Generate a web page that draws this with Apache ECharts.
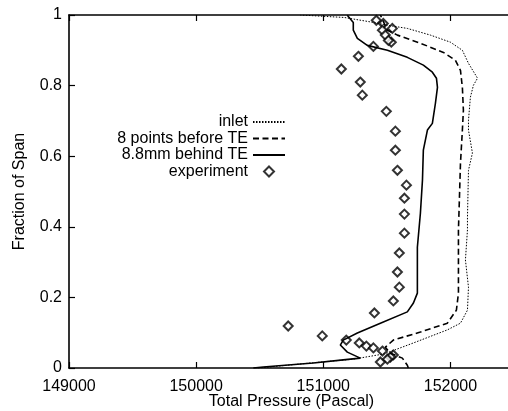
<!DOCTYPE html>
<html>
<head>
<meta charset="utf-8">
<script src="https://cdn.jsdelivr.net/npm/echarts@6/dist/echarts.min.js"></script>
<style>
  html, body { margin: 0; padding: 0; background: #fff; }
  #chart { width: 508px; height: 411px; }
</style>
</head>
<body>
<div id="chart"></div>
<script>
// tick labels
var xTicks = [149000, 150000, 151000, 152000];
var yTicks = [0, 0.2, 0.4, 0.6, 0.8, 1];

// inlet (dotted): [pressure, span]
var inlet = [
  [150488, 0], [150984, 0.017], [151236, 0.025], [151480, 0.040], [151709, 0.071],
  [151976, 0.108], [152079, 0.127], [152134, 0.164], [152142, 0.229], [152118, 0.306],
  [152134, 0.391], [152134, 0.427], [152142, 0.560], [152173, 0.609], [152142, 0.674],
  [152142, 0.702], [152157, 0.767], [152181, 0.801], [152213, 0.821], [152142, 0.863],
  [152094, 0.900], [152000, 0.923], [151843, 0.943], [151661, 0.962], [151504, 0.971],
  [151394, 0.979], [151165, 0.993], [150819, 1.0]
];

// 8 points before TE (dashed)
var beforeTE = [
  [151669, 0], [151661, 0.008], [151622, 0.028], [151528, 0.042], [151488, 0.059],
  [151551, 0.079], [151764, 0.102], [151976, 0.127], [152047, 0.164], [152063, 0.212],
  [152063, 0.306], [152063, 0.391], [152071, 0.484], [152079, 0.580], [152094, 0.674],
  [152102, 0.730], [152094, 0.795], [152079, 0.843], [152039, 0.872], [151945, 0.894],
  [151764, 0.920], [151583, 0.943], [151504, 0.957], [151449, 1.0]
];

// 8.8mm behind TE (solid)
var behindTE = [
  [150450, 0], [150528, 0.003], [150921, 0.014], [151157, 0.023], [151291, 0.028],
  [151189, 0.045], [151134, 0.065], [151157, 0.079], [151268, 0.099], [151449, 0.127],
  [151661, 0.159], [151709, 0.184], [151740, 0.212], [151740, 0.249], [151740, 0.306],
  [151740, 0.342], [151764, 0.439], [151780, 0.532], [151787, 0.617], [151819, 0.674],
  [151858, 0.693], [151882, 0.750], [151898, 0.795], [151890, 0.821], [151858, 0.838],
  [151787, 0.858], [151661, 0.880], [151504, 0.900], [151346, 0.914], [151268, 0.934],
  [151236, 0.957], [151236, 0.979], [151189, 0.999]
];

// experiment (diamonds)
var experiment = [
  [151417, 0.985], [151472, 0.976], [151465, 0.957], [151543, 0.962], [151488, 0.943],
  [151535, 0.923], [151512, 0.928], [151394, 0.911], [151276, 0.883], [151142, 0.847],
  [151291, 0.810], [151307, 0.773], [151496, 0.727], [151567, 0.671], [151567, 0.617],
  [151583, 0.560], [151654, 0.518], [151638, 0.481], [151638, 0.436], [151638, 0.382],
  [151598, 0.326], [151583, 0.272], [151598, 0.229], [151551, 0.190], [151402, 0.156],
  [150724, 0.119], [150992, 0.091], [151181, 0.079], [151283, 0.071], [151339, 0.062],
  [151394, 0.057], [151465, 0.048], [151551, 0.037], [151528, 0.031], [151504, 0.025],
  [151449, 0.017]
];

var font = 'Liberation Sans, Arial, Helvetica, sans-serif';

function frameAxis(pos, showLabel) {
  return {
    type: 'value',
    position: pos,
    axisLine: { show: true, onZero: false, lineStyle: { color: '#000', width: 1.6 } },
    axisTick: { show: true, inside: true, length: 6, lineStyle: { color: '#000', width: 1.2 } },
    splitLine: { show: false },
    axisLabel: { show: showLabel }
  };
}

var xBottom = frameAxis('bottom', true);
xBottom.min = 149000; xBottom.max = 152500; xBottom.interval = 1000;
xBottom.name = 'Total Pressure (Pascal)';
xBottom.nameLocation = 'middle';
xBottom.nameGap = 26;
xBottom.nameMoveOverlap = false;
xBottom.nameTextStyle = { color: '#000', fontFamily: font, fontSize: 16 };
xBottom.axisLabel = {
  show: true, color: '#000', fontFamily: font, fontSize: 16, margin: 11,
  formatter: function (v) { return xTicks.indexOf(v) >= 0 ? String(v) : ''; }
};
var xTop = frameAxis('top', false);
xTop.min = 149000; xTop.max = 152500; xTop.interval = 1000;

var yLeft = frameAxis('left', true);
yLeft.min = 0; yLeft.max = 1; yLeft.interval = 0.2;
yLeft.name = 'Fraction of Span';
yLeft.nameLocation = 'middle';
yLeft.nameGap = 41;
yLeft.nameTextStyle = { color: '#000', fontFamily: font, fontSize: 16 };
yLeft.axisLabel = {
  show: true, color: '#000', fontFamily: font, fontSize: 16, margin: 7,
  formatter: function (v) {
    for (var i = 0; i < yTicks.length; i++) {
      if (Math.abs(yTicks[i] - v) < 1e-9) return String(yTicks[i]);
    }
    return '';
  }
};
var yRight = frameAxis('right', false);
yRight.min = 0; yRight.max = 1; yRight.interval = 0.2;

var noSymbol = { opacity: 0 };

var option = {
  backgroundColor: '#fff',
  animation: false,
  grid: {
    left: 69, right: -6, top: 15, bottom: 43,
    containLabel: false, outerBoundsMode: 'none'
  },
  xAxis: [xBottom, xTop],
  yAxis: [yLeft, yRight],
  legend: {
    orient: 'vertical',
    align: 'right',
    right: 222,
    top: 114,
    padding: 0,
    itemWidth: 32,
    itemHeight: 10,
    itemGap: 0.5,
    symbolKeepAspect: true,
    textStyle: { color: '#000', fontFamily: font, fontSize: 16 },
    data: [
      { name: 'inlet', itemStyle: noSymbol },
      { name: '8 points before TE', itemStyle: noSymbol },
      { name: '8.8mm behind TE', itemStyle: noSymbol },
      {
        name: 'experiment',
        icon: 'path://M0,-1L1,0L0,1L-1,0Z',
        itemStyle: { color: '#fff', borderColor: '#000', borderWidth: 2 }
      }
    ]
  },
  series: [
    {
      name: 'inlet', type: 'line', data: inlet, symbol: 'none',
      itemStyle: { color: '#000' },
      lineStyle: { color: '#000', width: 1, type: [1.5, 1.5] }
    },
    {
      name: '8 points before TE', type: 'line', data: beforeTE, symbol: 'none',
      itemStyle: { color: '#000' },
      lineStyle: { color: '#000', width: 1.6, type: [6, 3.5] }
    },
    {
      name: '8.8mm behind TE', type: 'line', data: behindTE, symbol: 'none',
      itemStyle: { color: '#000' },
      lineStyle: { color: '#000', width: 1.6, type: 'solid' }
    },
    {
      name: 'experiment', type: 'scatter', data: experiment,
      symbol: 'diamond', symbolSize: 9,
      itemStyle: { color: '#fff', borderColor: '#000', borderWidth: 2 }
    }
  ]
};

var chart = echarts.init(document.getElementById('chart'));
chart.setOption(option);
</script>
</body>
</html>
